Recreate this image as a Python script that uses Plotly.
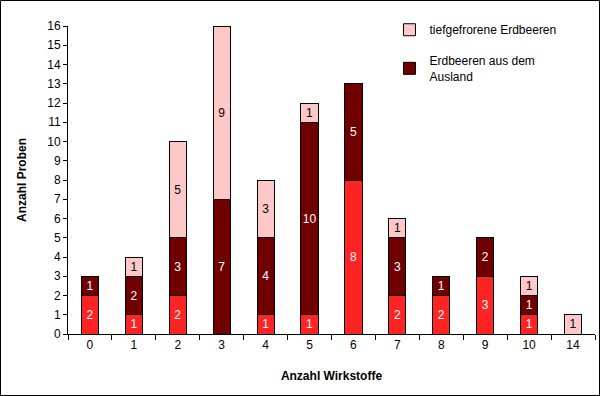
import plotly.graph_objects as go

categories = ["0", "1", "2", "3", "4", "5", "6", "7", "8", "9", "10", "14"]
rot = [2, 1, 2, 0, 1, 1, 8, 2, 2, 3, 1, 0]
ausland = [1, 2, 3, 7, 4, 10, 5, 3, 1, 2, 1, 0]
tiefgefroren = [0, 1, 5, 9, 3, 1, 0, 1, 0, 0, 1, 1]

RED = "#FF2424"
DARK = "#700000"
PINK = "#FFC8C8"
FONT = "Liberation Sans, Arial, sans-serif"


def vals(v):
    return [x if x else None for x in v]


def txt(v):
    return [str(x) if x else "" for x in v]


common = dict(textposition="inside", insidetextanchor="middle",
              textangle=0, constraintext="none", cliponaxis=False)

fig = go.Figure()
fig.add_trace(go.Bar(
    x=categories, y=vals(rot), text=txt(rot), name="Erdbeeren",
    marker=dict(color=RED, line=dict(color="black", width=1)),
    textfont=dict(color="white", size=12, family=FONT),
    showlegend=False, legendgroup="r", **common,
))
fig.add_trace(go.Bar(
    x=categories, y=vals(ausland), text=txt(ausland), name="Erdbeeren aus dem<br>Ausland",
    marker=dict(color=DARK, line=dict(color="black", width=1)),
    textfont=dict(color="white", size=12, family=FONT),
    legendgroup="d", legendrank=2, **common,
))
fig.add_trace(go.Bar(
    x=categories, y=vals(tiefgefroren), text=txt(tiefgefroren), name="tiefgefrorene Erdbeeren",
    marker=dict(color=PINK, line=dict(color="black", width=1)),
    textfont=dict(color="black", size=12, family=FONT),
    legendgroup="p", legendrank=1, **common,
))

L, R, T, B = 68, 5, 26, 62
W, H = 600, 396
pw, ph = W - L - R, H - T - B

fig.update_layout(
    width=W, height=H,
    barmode="stack", bargap=0.61,
    margin=dict(l=L, r=R, t=T, b=B),
    paper_bgcolor="white", plot_bgcolor="white",
    font=dict(family=FONT, size=12, color="black"),
    legend=dict(
        x=0.61, y=1.035, xanchor="left", yanchor="top",
        font=dict(size=12, family=FONT),
        bgcolor="rgba(0,0,0,0)", tracegroupgap=12,
        traceorder="grouped",
        itemwidth=30,
    ),
    xaxis=dict(
        type="category", showline=True, linecolor="black", linewidth=1,
        ticks="outside", ticklen=5, tickcolor="black", tickson="boundaries",
        showgrid=False, tickfont=dict(size=12),
        title=dict(text="<b>Anzahl Wirkstoffe</b>", font=dict(size=12), standoff=20),
        range=[-0.5, 11.5],
    ),
    yaxis=dict(
        range=[0, 16], dtick=1, showline=True, linecolor="black", linewidth=1,
        ticks="outside", ticklen=4, tickcolor="black", showgrid=False,
        tickfont=dict(size=12), zeroline=False,
        title=dict(text="<b>Anzahl Proben</b>", font=dict(size=12), standoff=18),
    ),
)

# outer frame around the whole picture
fig.add_shape(
    type="rect", xref="paper", yref="paper",
    x0=(0.5 - L) / pw, x1=(W - 0.5 - L) / pw,
    y0=-(B - 0.5) / ph, y1=1 + (T - 0.5) / ph,
    line=dict(color="black", width=1), fillcolor="rgba(0,0,0,0)", layer="below",
)

fig.write_html("out.html", config={"displayModeBar": False},
               post_script="document.body.style.margin='0';")
